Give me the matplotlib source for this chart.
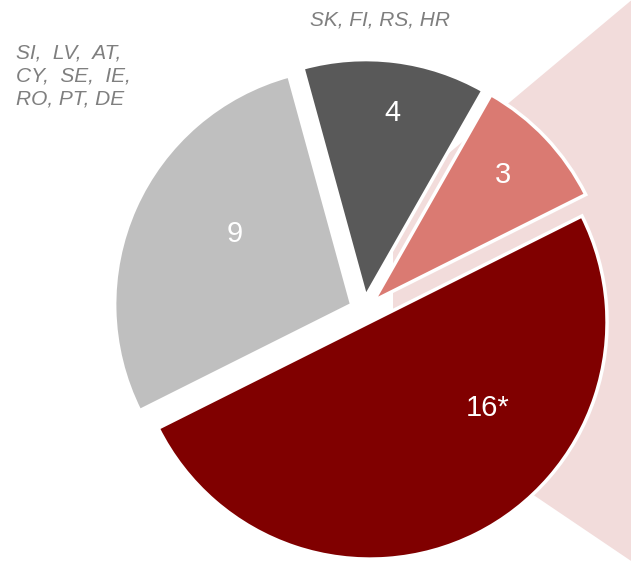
import matplotlib
matplotlib.use("Agg")
import matplotlib.pyplot as plt
from matplotlib.patches import Polygon

# slice data (counter-clockwise, starting at the big slice)
values = [16, 3, 4, 9]
labels = ["16*", "3", "4", "9"]
colors = ["#800000", "#DA7A72", "#595959", "#BFBFBF"]
explode = [13.5, 13.5, 13.5, 13.5]

# country groups written next to the slices
group_4 = "SK, FI, RS, HR"
group_9 = "SI,  LV,  AT,\nCY,  SE,  IE,\nRO, PT, DE"

W, H = 631, 561
fig = plt.figure(figsize=(W / 100, H / 100), dpi=100)
ax = fig.add_axes([0, 0, 1, 1])

# light pink callout shape behind the pie (pixel coords, y from top)
callout = [(393, 200), (640, -7), (640, 567), (393, 400)]
ax.add_patch(Polygon([(x, H - y) for x, y in callout], closed=True,
                     facecolor="#F2DCDB", edgecolor="none", zorder=0))

total = sum(values)
start = 26.6 - 360 * values[0] / total
wedges, _ = ax.pie(values, colors=colors, explode=explode, startangle=start,
                   counterclock=True, center=(364, H - 310), radius=237,
                   wedgeprops=dict(edgecolor="white", linewidth=2.5),
                   frame=True)
for w in wedges:
    w.set_zorder(2)
ax.set_xlim(0, W)
ax.set_ylim(0, H)
ax.set_aspect("equal")
ax.axis("off")

# value labels
label_pos = [(488, 408), (503, 175), (392, 113), (235, 234)]
for txt, (x, y) in zip(labels, label_pos):
    ax.text(x, H - y, txt, color="white", fontsize=21, family="Liberation Sans",
            ha="center", va="center", zorder=3)

ax.text(380, H - 20, group_4, color="#7F7F7F", fontsize=15, style="italic",
        family="Liberation Sans", ha="center", va="center")
ax.text(16, H - 76, group_9, color="#7F7F7F", fontsize=15, style="italic",
        family="Liberation Sans", ha="left", va="center", linespacing=1.25)

fig.savefig("out.png", dpi=100)
